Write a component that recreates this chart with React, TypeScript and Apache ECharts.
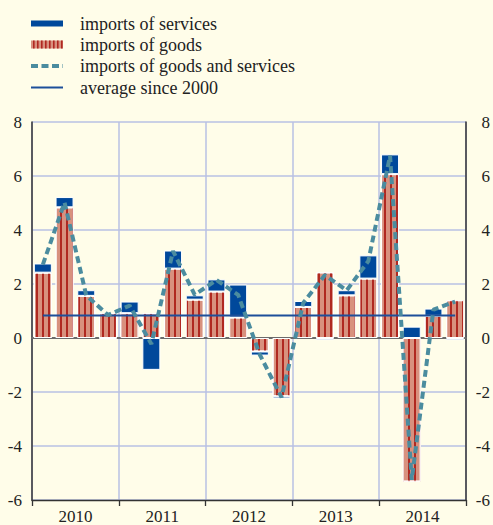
import React, { useEffect, useRef } from "react";
import * as echarts from "echarts";

const quarters = [
  "2010 Q1", "2010 Q2", "2010 Q3", "2010 Q4",
  "2011 Q1", "2011 Q2", "2011 Q3", "2011 Q4",
  "2012 Q1", "2012 Q2", "2012 Q3", "2012 Q4",
  "2013 Q1", "2013 Q2", "2013 Q3", "2013 Q4",
  "2014 Q1", "2014 Q2", "2014 Q3", "2014 Q4",
];
const years = ["2010", "2011", "2012", "2013", "2014"];

const importsOfGoods = [
  2.42, 4.84, 1.56, 0.92,
  0.92, 0.92, 2.57, 1.42,
  1.72, 0.76, -0.5, -2.16,
  1.15, 2.43, 1.58, 2.2,
  6.07, -5.32, 0.82, 1.4,
];
const importsOfServices = [
  0.34, 0.38, 0.21, -0.05,
  0.43, -1.18, 0.67, 0.16,
  0.45, 1.22, -0.15, -0.08,
  0.22, -0.08, 0.19, 0.86,
  0.73, 0.42, 0.27, -0.08,
];
const importsOfGoodsAndServices = [
  2.72, 5.02, 1.58, 0.85,
  1.2, -0.22, 3.22, 1.6,
  2.15, 1.6, -0.62, -2.2,
  1.3, 2.33, 1.76, 2.85,
  6.75, -5.25, 1.05, 1.35,
];
const averageSince2000Value = 0.83;
const averageSince2000 = quarters.map(() => averageSince2000Value);

const yTicks = { min: -6, max: 8, interval: 2 };

const legendLabels = [
  "imports of services",
  "imports of goods",
  "imports of goods and services",
  "average since 2000",
];

const C = {
  bg: "#fffde9",
  services: "#00489b",
  goods: "#d8917e",
  stripe: "#b02820",
  dashed: "#4b8c9f",
  avg: "#1d4f9a",
  grid: "#b9c1e3",
  axis: "#333333",
  zero: "#6b6b6b",
  text: "#222222",
};
const FONT = "Liberation Serif";

export default function App() {
  const ref = useRef<HTMLDivElement | null>(null);

  useEffect(() => {
    document.body.style.margin = "0";
    document.body.style.background = C.bg;
    if (!ref.current) return;
    const chart = echarts.init(ref.current, undefined, { renderer: "svg" });

    const legendX = 31;
    const iconW = 32;
    const textX = 80;
    const rowsY = [23.5, 44.5, 66, 87.5];
    const stripeEls: any[] = [];
    for (let sx = legendX + 2; sx < legendX + iconW - 1; sx += 4) {
      stripeEls.push({
        type: "rect",
        shape: { x: sx, y: rowsY[1] - 4, width: 1.6, height: 8 },
        style: { fill: C.stripe },
      });
    }

    const graphic: any[] = [
      {
        type: "rect",
        shape: { x: legendX, y: rowsY[0] - 3, width: iconW, height: 6 },
        style: { fill: C.services },
      },
      {
        type: "rect",
        shape: { x: legendX, y: rowsY[1] - 4, width: iconW, height: 8 },
        style: { fill: C.goods },
      },
      ...stripeEls,
      {
        type: "line",
        shape: { x1: legendX, y1: rowsY[2], x2: legendX + iconW, y2: rowsY[2] },
        style: { stroke: C.dashed, lineWidth: 4, lineDash: [7, 3.5] },
      },
      {
        type: "line",
        shape: { x1: legendX, y1: rowsY[3], x2: legendX + iconW, y2: rowsY[3] },
        style: { stroke: C.avg, lineWidth: 2 },
      },
      ...legendLabels.map((t, i) => ({
        type: "text",
        x: textX,
        y: rowsY[i],
        style: {
          text: t,
          fill: C.text,
          fontFamily: FONT,
          fontSize: 18,
          verticalAlign: "middle",
          align: "left",
        },
      })),
    ];

    const option: any = {
      animation: false,
      backgroundColor: C.bg,
      textStyle: { fontFamily: FONT },
      grid: { left: 32, right: 26, top: 122, bottom: 23, containLabel: false },
      graphic,
      xAxis: [
        {
          type: "category",
          data: quarters,
          position: "bottom",
          boundaryGap: true,
          axisLine: { show: true, onZero: true, lineStyle: { color: C.zero, width: 2 } },
          axisTick: { show: false },
          axisLabel: { show: false },
          splitLine: { show: false },
        },
        {
          type: "category",
          data: years,
          position: "bottom",
          boundaryGap: true,
          axisLine: { show: true, onZero: false, lineStyle: { color: C.axis, width: 1.3 } },
          axisTick: { show: true, length: 6, inside: false, lineStyle: { color: C.axis, width: 1.3 } },
          axisLabel: { show: true, fontFamily: FONT, fontSize: 17, color: C.text, margin: 8 },
          splitLine: { show: true, lineStyle: { color: C.grid, width: 1.5 } },
        },
      ],
      yAxis: [
        {
          type: "value",
          position: "left",
          min: yTicks.min,
          max: yTicks.max,
          interval: yTicks.interval,
          axisLine: { show: true, lineStyle: { color: C.axis, width: 1.5 } },
          axisTick: { show: false },
          axisLabel: { fontFamily: FONT, fontSize: 17, color: C.text, margin: 10 },
          splitLine: { show: true, lineStyle: { color: C.grid, width: 1.5 } },
        },
        {
          type: "value",
          position: "right",
          min: yTicks.min,
          max: yTicks.max,
          interval: yTicks.interval,
          axisLine: { show: true, lineStyle: { color: C.axis, width: 1.5 } },
          axisTick: { show: false },
          axisLabel: { fontFamily: FONT, fontSize: 17, color: C.text, margin: 24, align: "right" },
          splitLine: { show: false },
        },
      ],
      series: [
        {
          name: "imports of goods",
          type: "bar",
          stack: "total",
          xAxisIndex: 0,
          yAxisIndex: 0,
          data: importsOfGoods,
          barWidth: 18,
          itemStyle: {
            color: C.goods,
            borderColor: "#ffffff",
            borderWidth: 1,
            decal: {
              symbol: "rect",
              symbolSize: 1,
              color: C.stripe,
              dashArrayX: [2, 4],
              dashArrayY: [20, 0],
              rotation: 0,
            },
          },
        },
        {
          name: "imports of services",
          type: "bar",
          stack: "total",
          xAxisIndex: 0,
          yAxisIndex: 0,
          data: importsOfServices,
          barWidth: 18,
          itemStyle: { color: C.services, borderColor: "#ffffff", borderWidth: 1 },
        },
        {
          name: "average since 2000",
          type: "line",
          xAxisIndex: 0,
          yAxisIndex: 0,
          data: averageSince2000,
          symbol: "none",
          lineStyle: { color: C.avg, width: 2 },
          z: 3,
        },
        {
          name: "imports of goods and services",
          type: "line",
          xAxisIndex: 0,
          yAxisIndex: 0,
          data: importsOfGoodsAndServices,
          symbol: "none",
          lineStyle: { color: C.dashed, width: 4, type: [7, 4] },
          z: 4,
        },
      ],
    };

    chart.setOption(option);
    return () => chart.dispose();
  }, []);

  return <div ref={ref} style={{ width: 493, height: 525 }} />;
}
